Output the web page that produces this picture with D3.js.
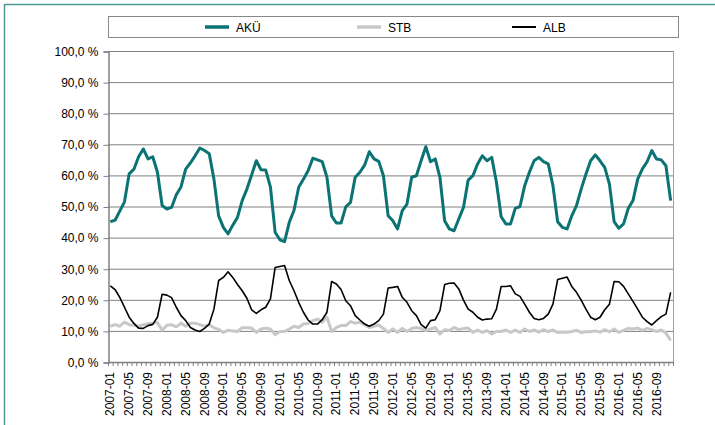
<!DOCTYPE html>
<html><head><meta charset="utf-8">
<script src="https://cdn.jsdelivr.net/npm/d3@7/dist/d3.min.js"></script>
<style>body{margin:0;background:#fff}svg{display:block;font-family:"Liberation Sans",Arial,sans-serif}</style>
</head><body>
<svg id="c" width="715" height="425"></svg>
<script>
const years = d3.range(2007, 2017);
const months = ["01","02","03","04","05","06","07","08","09","10","11","12"];
const categories = years.flatMap(y => months.map(m => y + "-" + m));
const tickLabels = categories.filter((d, i) => i % 4 === 0);
const yTicks = [0,10,20,30,40,50,60,70,80,90,100];
const seriesNames = ["AKÜ","STB","ALB"];

const aku = [
45.1,45.6,48.5,51.5,60.5,62.0,66.0,68.5,65.3,66.0,61.0,50.3,
49.2,49.7,53.8,56.3,62.0,64.0,66.3,68.8,68.0,67.0,58.8,47.0,
43.3,41.2,44.0,46.5,51.9,55.6,60.1,64.7,61.8,61.7,56.2,41.7,
39.3,38.7,44.9,48.7,56.2,58.8,61.5,65.5,65.0,64.4,59.4,47.0,
44.7,44.7,49.9,51.3,59.4,61.0,63.3,67.6,65.3,64.5,59.9,47.0,
45.4,42.8,48.7,50.8,59.4,59.9,64.7,69.2,64.4,65.3,59.4,45.4,
42.8,42.2,46.0,49.7,58.5,59.9,63.7,66.3,64.7,65.8,57.8,46.7,
44.4,44.4,49.4,50.0,56.7,61.0,64.7,65.8,64.4,63.7,56.7,45.1,
43.3,42.8,47.0,50.3,55.6,60.4,64.7,66.6,64.7,62.6,57.2,45.1,
43.0,44.4,49.4,51.9,58.8,62.1,64.4,68.0,65.3,65.0,63.1,51.9];
const stb = [
11.5,12.0,11.5,12.8,12.0,11.8,11.5,12.0,12.3,12.5,12.7,10.2,
11.8,12.0,11.3,12.5,11.5,12.5,12.5,12.0,11.5,12.0,11.0,10.5,
9.5,10.2,10.0,9.8,11.0,11.0,10.9,9.5,10.6,10.9,10.6,8.8,
9.8,9.8,10.6,11.5,11.1,12.2,12.4,13.3,13.8,12.8,14.4,9.8,
11.1,11.7,11.7,13.0,12.5,12.8,12.0,11.1,11.5,11.9,10.8,9.5,
10.6,9.5,10.8,9.8,10.8,11.1,10.8,10.1,10.6,11.1,9.0,10.4,
10.1,11.1,10.4,10.8,10.9,9.5,10.3,9.5,10.1,9.0,9.8,9.8,
10.3,9.5,10.3,9.5,10.6,9.8,10.3,9.6,10.4,9.8,10.3,9.5,
9.6,9.6,9.8,10.2,9.5,9.7,9.7,10.0,9.6,10.4,9.7,10.6,
9.5,10.2,10.8,10.6,10.9,10.2,10.8,10.4,9.8,10.3,9.3,6.9];
const alb = [
24.5,23.3,20.8,17.6,14.4,12.4,10.9,10.8,11.7,12.1,14.4,21.8,
21.5,20.7,17.6,14.9,13.3,11.1,10.3,9.8,10.8,12.2,17.0,26.2,
27.2,29.0,27.2,24.9,22.9,20.5,16.8,15.6,16.8,17.6,20.3,30.4,
30.7,31.0,26.2,22.9,19.2,16.0,13.5,12.2,12.2,13.6,16.0,25.9,
25.1,23.3,19.7,18.1,14.9,13.5,12.2,11.5,12.2,13.3,15.4,23.8,
24.0,24.3,20.8,19.2,16.5,14.9,12.0,10.9,13.3,13.6,16.5,24.9,
25.3,25.4,23.5,19.9,17.0,16.0,14.4,13.5,13.8,13.9,17.0,24.3,
24.3,24.5,21.9,21.1,18.6,16.0,14.0,13.6,14.0,15.4,18.6,26.5,
26.9,27.3,24.3,22.4,19.9,17.0,14.4,13.6,14.4,16.8,18.6,25.9,
25.8,24.3,21.9,19.5,17.0,14.4,13.0,11.9,13.3,14.6,15.4,22.4];

const colors = {"AKÜ":"#0b7374","STB":"#c8c8c8","ALB":"#000000"};
const widths = {"AKÜ":3,"STB":3,"ALB":1.6};
const seriesData = {"AKÜ":aku,"STB":stb,"ALB":alb};

const svg = d3.select("#c");
const L = 108, R = 673, T = 51, B = 362;

// outer frame
svg.append("rect").attr("x",4.5).attr("y",4.5).attr("width",712).attr("height",424)
  .attr("fill","none").attr("stroke","#4c9a9a").attr("stroke-width",1.5);

const x = d3.scaleBand().domain(categories).range([L, R]).padding(0);
const y = d3.scaleLinear().domain([0,100]).range([B, T]);
const loc = d3.formatLocale({decimal:",", thousands:".", grouping:[3], currency:["","€"]});
const fmt = loc.format(".1f");

// gridlines
svg.append("g").selectAll("line").data(yTicks.filter(d => d > 0)).join("line")
  .attr("x1", L).attr("x2", R).attr("y1", d => y(d)+0.5).attr("y2", d => y(d)+0.5)
  .attr("stroke","#808080").attr("stroke-width",1);
// right border
svg.append("line").attr("x1",R+0.5).attr("x2",R+0.5).attr("y1",y(100)).attr("y2",B+4)
  .attr("stroke","#a0a0a0");

// y axis
const yAxis = d3.axisLeft(y).tickValues(yTicks).tickFormat(d => fmt(d) + " %").tickSize(5).tickPadding(5);
const gy = svg.append("g").attr("transform",`translate(${L+0.5},0.5)`).call(yAxis);
gy.select(".domain").attr("stroke","#808080").attr("stroke-width",1.5);
gy.selectAll(".tick line").attr("stroke","#808080");
gy.selectAll("text").attr("fill","#000").style("font-size","12px");

// x axis: minor ticks at category boundaries
const bounds = categories.map(d => x(d)).concat([x.range()[1]]);
svg.append("g").selectAll("line").data(bounds).join("line")
  .attr("x1", d => d+0.5).attr("x2", d => d+0.5).attr("y1", B).attr("y2", B+4)
  .attr("stroke","#808080");
svg.append("line").attr("x1",L).attr("x2",R+1).attr("y1",B+0.5).attr("y2",B+0.5)
  .attr("stroke","#808080").attr("stroke-width",1.5);
// x labels
svg.append("g").selectAll("text").data(tickLabels).join("text")
  .attr("transform", d => `translate(${x(d)+x.bandwidth()/2+4},${B+10}) rotate(-90)`)
  .attr("text-anchor","end").style("font-size","12px").attr("fill","#000").text(d => d);

// lines
const line = d3.line().x((d,i) => x(categories[i]) + x.bandwidth()/2).y(d => y(d));
seriesNames.forEach(n => {
  svg.append("path").datum(seriesData[n]).attr("d", line)
    .attr("fill","none").attr("stroke", colors[n]).attr("stroke-width", widths[n])
    .attr("stroke-linejoin","round");
});

// legend
svg.append("rect").attr("x",108.5).attr("y",16.5).attr("width",570).attr("height",21)
  .attr("fill","#fff").attr("stroke","#888");
const legX = [205, 357, 512];
seriesNames.forEach((n,i) => {
  svg.append("line").attr("x1",legX[i]).attr("x2",legX[i]+24).attr("y1",27).attr("y2",27)
    .attr("stroke",colors[n]).attr("stroke-width", n==="ALB"?2:3.5);
  svg.append("text").attr("x",legX[i]+31).attr("y",31.5).style("font-size","12px").text(n);
});
</script>
</body></html>
